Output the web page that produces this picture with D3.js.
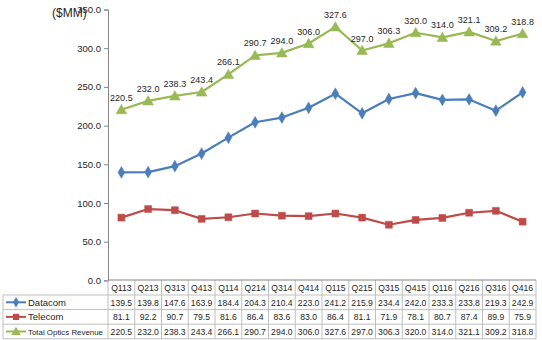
<!DOCTYPE html>
<html><head><meta charset="utf-8">
<script src="https://cdn.jsdelivr.net/npm/d3@7"></script>
<style>body{margin:0;background:#fff}svg{display:block}text{font-family:"Liberation Sans",Arial,sans-serif;fill:#262626}</style>
</head><body><svg id="c" width="542" height="340"></svg>
<script>
const quarters = ["Q113","Q213","Q313","Q413","Q114","Q214","Q314","Q414","Q115","Q215","Q315","Q415","Q116","Q216","Q316","Q416"];
const datacom = [139.5,139.8,147.6,163.9,184.4,204.3,210.4,223.0,241.2,215.9,234.4,242.0,233.3,233.8,219.3,242.9];
const telecom = [81.1,92.2,90.7,79.5,81.6,86.4,83.6,83.0,86.4,81.1,71.9,78.1,80.7,87.4,89.9,75.9];
const total = [220.5,232.0,238.3,243.4,266.1,290.7,294.0,306.0,327.6,297.0,306.3,320.0,314.0,321.1,309.2,318.8];
const seriesNames = ["Datacom","Telecom","Total Optics Revenue"];
const yTicks = [0,50,100,150,200,250,300,350];
const unitLabel = "($MM)";

const series = [
  {name: seriesNames[0], values: datacom, color: "#4A7EBB", marker: "diamond"},
  {name: seriesNames[1], values: telecom, color: "#BE4B48", marker: "square"},
  {name: seriesNames[2], values: total, color: "#98B954", marker: "triangle", labels: true}
];

const svg = d3.select("#c");
const x = d3.scaleBand().domain(quarters).range([108, 536]);
const cx = q => x(q) + x.bandwidth()/2;
const y = d3.scaleLinear().domain([0,350]).range([280.4, 9.5]);

// Y axis
const yAxis = d3.axisLeft(y).tickValues(yTicks).tickFormat(d3.format(".1f")).tickSize(4).tickPadding(3);
const ga = svg.append("g").attr("transform","translate(108,0)").call(yAxis);
ga.select(".domain").attr("stroke","#868686");
ga.selectAll(".tick line").attr("stroke","#868686");
ga.selectAll(".tick text").style("font-size","9.5px").attr("fill","#262626");

svg.append("text").attr("x",52).attr("y",17).style("font-size","12px").text(unitLabel);

// Lines
const markerSym = {diamond: d3.symbolDiamond, square: d3.symbolSquare, triangle: d3.symbolTriangle};
const markerSize = {diamond: 40, square: 48, triangle: 50};
series.forEach(s => {
  const line = d3.line().x((d,i)=>cx(quarters[i])).y(d=>y(d));
  svg.append("path").datum(s.values).attr("d",line).attr("fill","none").attr("stroke",s.color).attr("stroke-width",2.2).attr("stroke-linejoin","round");
  svg.append("g").selectAll("path").data(s.values).join("path")
    .attr("transform",(d,i)=>`translate(${cx(quarters[i])},${y(d) + (s.marker==="triangle"?1:0)})`)
    .attr("d", d3.symbol().type(markerSym[s.marker]).size(markerSize[s.marker]))
    .attr("fill", s.color).attr("stroke", s.color).attr("stroke-width",0.5);
  if (s.labels) {
    svg.append("g").selectAll("text").data(s.values).join("text")
      .attr("x",(d,i)=>cx(quarters[i])).attr("y",d=>y(d)-9)
      .attr("text-anchor","middle").style("font-size","9px").text(d=>d.toFixed(1));
  }
});

// Data table
const tb = svg.append("g");
const gridC = "#BFBFBF";
const rowY = [280, 295, 309.6, 324.2, 338.8];
const xs = quarters.map(q=>x(q)).concat([536]);
tb.selectAll("line.v").data(xs).join("line")
  .attr("x1",d=>d).attr("x2",d=>d).attr("y1",280).attr("y2",338.8).attr("stroke",gridC).attr("stroke-width",1);
tb.append("line").attr("x1",108).attr("x2",536).attr("y1",280).attr("y2",280).attr("stroke","#868686");
[1,2,3,4].forEach(i=>{
  tb.append("line").attr("x1",3).attr("x2",536).attr("y1",rowY[i]).attr("y2",rowY[i]).attr("stroke",gridC);
});
tb.append("line").attr("x1",3).attr("x2",3).attr("y1",295).attr("y2",338.8).attr("stroke",gridC);
tb.selectAll("text.h").data(quarters).join("text")
  .attr("x",q=>cx(q)).attr("y",291).attr("text-anchor","middle").style("font-size","8.6px").text(q=>q);
series.forEach((s,r)=>{
  const yy = rowY[r+1] + 10.6;
  tb.append("g").selectAll("text").data(s.values).join("text")
    .attr("x",(d,i)=>cx(quarters[i])).attr("y",yy).attr("text-anchor","middle").style("font-size","8.6px").text(d=>d.toFixed(1));
  const my = rowY[r+1] + 7.3;
  tb.append("line").attr("x1",6).attr("x2",26).attr("y1",my).attr("y2",my).attr("stroke",s.color).attr("stroke-width",2);
  tb.append("path").attr("transform",`translate(16,${my + (s.marker==="triangle"?0.8:0)})`)
    .attr("d", d3.symbol().type(markerSym[s.marker]).size(markerSize[s.marker]*0.8)).attr("fill",s.color);
  const t = tb.append("text").attr("x",28).attr("y",yy)
    .style("font-family",'"Liberation Sans Narrow","Liberation Sans",Arial,sans-serif')
    .style("font-size","9.5px").text(s.name);
  let fs = 9.5;
  while (t.node().getComputedTextLength() > 76 && fs > 6) { fs -= 0.1; t.style("font-size", fs + "px"); }
});
</script></body></html>
